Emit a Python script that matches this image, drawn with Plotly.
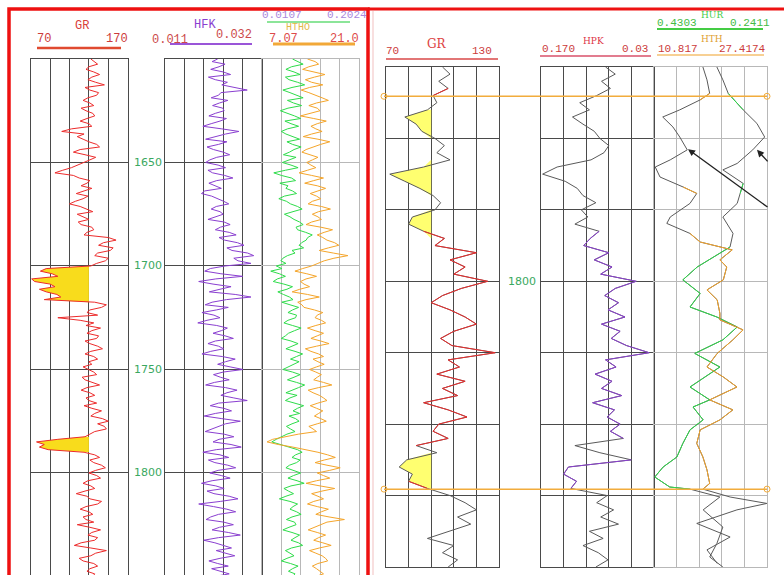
import numpy as np
import plotly.graph_objects as go

W, H = 784, 575

# ---------------- LEFT PANEL DATA (depth step 1.25 m from 1600) ----------------
left_gr = [132, 136, 139, 130, 127, 135, 141, 133, 129, 137, 146, 126, 131, 140, 138, 129, 124, 131, 135, 122,
           127, 134, 136, 128, 121, 130, 133, 112, 102, 125, 118, 124, 130, 138, 141, 121, 114, 126, 137, 131,
           125, 119, 112, 103, 95, 114, 120, 131, 128, 122, 133, 125, 117, 129, 124, 116, 110, 121, 127, 134,
           118, 125, 130, 119, 122, 133, 135, 128, 125, 150, 158, 145, 140, 155, 152, 139, 136, 150, 147, 138,
           132, 86, 80, 92, 98, 71, 74, 90, 95, 79, 86, 97, 101, 84, 136, 148, 143, 131, 128, 139,
           98, 121, 135, 127, 142, 133, 128, 140, 138, 126, 131, 139, 144, 132, 126, 135, 139, 130, 133, 124,
           129, 135, 138, 123, 126, 134, 141, 128, 122, 131, 136, 127, 130, 138, 125, 133, 143, 136, 132, 144,
           150, 139, 146, 148, 136, 131, 126, 98, 76, 84, 79, 88, 125, 136, 141, 131, 135, 143, 147, 137,
           130, 138, 142, 129, 124, 132, 136, 126, 117, 128, 131, 143, 139, 127, 121, 130, 134, 124, 127, 135,
           118, 131, 142, 133, 129, 139, 136, 122, 115, 132, 148, 137, 132, 120, 124, 135, 139, 131, 128, 136,
           134]
left_hfk = [0.0224, 0.0212, 0.0240, 0.0227, 0.0209, 0.0236, 0.0252, 0.0204, 0.0219, 0.0245, 0.0233, 0.0262, 0.0288, 0.0231, 0.0226, 0.0210, 0.0246, 0.0228, 0.0213, 0.0235,
            0.0238, 0.0219, 0.0205, 0.0243, 0.0229, 0.0210, 0.0192, 0.0233, 0.0270, 0.0241, 0.0217, 0.0198, 0.0244, 0.0226, 0.0201, 0.0215, 0.0236, 0.0250, 0.0222, 0.0207,
            0.0198, 0.0225, 0.0241, 0.0203, 0.0213, 0.0239, 0.0257, 0.0222, 0.0205, 0.0218, 0.0232, 0.0196, 0.0189, 0.0211, 0.0226, 0.0237, 0.0248, 0.0221, 0.0210, 0.0229,
            0.0236, 0.0217, 0.0203, 0.0238, 0.0251, 0.0230, 0.0219, 0.0249, 0.0264, 0.0227, 0.0239, 0.0267, 0.0281, 0.0244, 0.0255, 0.0289, 0.0302, 0.0259, 0.0268, 0.0296,
            0.0240, 0.0208, 0.0196, 0.0231, 0.0278, 0.0220, 0.0183, 0.0214, 0.0253, 0.0229, 0.0206, 0.0262, 0.0296, 0.0243, 0.0212, 0.0197, 0.0247, 0.0221, 0.0190, 0.0216,
            0.0229, 0.0201, 0.0181, 0.0222, 0.0245, 0.0232, 0.0214, 0.0240, 0.0258, 0.0219, 0.0203, 0.0226, 0.0237, 0.0209, 0.0190, 0.0234, 0.0262, 0.0241, 0.0224, 0.0251,
            0.0279, 0.0236, 0.0215, 0.0230, 0.0249, 0.0217, 0.0198, 0.0241, 0.0266, 0.0244, 0.0231, 0.0259, 0.0288, 0.0226, 0.0208, 0.0237, 0.0254, 0.0219, 0.0195, 0.0233,
            0.0273, 0.0241, 0.0226, 0.0209, 0.0197, 0.0238, 0.0259, 0.0227, 0.0214, 0.0253, 0.0275, 0.0221, 0.0192, 0.0229, 0.0248, 0.0204, 0.0218, 0.0246, 0.0263, 0.0225,
            0.0207, 0.0232, 0.0251, 0.0212, 0.0189, 0.0220, 0.0238, 0.0201, 0.0216, 0.0249, 0.0268, 0.0230, 0.0183, 0.0215, 0.0244, 0.0263, 0.0226, 0.0209, 0.0199, 0.0237,
            0.0258, 0.0228, 0.0212, 0.0247, 0.0273, 0.0226, 0.0194, 0.0218, 0.0239, 0.0254, 0.0221, 0.0240, 0.0261, 0.0229, 0.0205, 0.0224, 0.0247, 0.0211, 0.0230, 0.0249,
            0.0218]
left_green = [0.071, 0.083, 0.092, 0.069, 0.058, 0.074, 0.086, 0.057, 0.064, 0.081, 0.095, 0.070, 0.052, 0.066, 0.080, 0.092, 0.061, 0.073, 0.089, 0.062,
              0.047, 0.063, 0.075, 0.087, 0.056, 0.068, 0.083, 0.061, 0.049, 0.058, 0.072, 0.085, 0.060, 0.071, 0.088, 0.074, 0.065, 0.053, 0.078, 0.066,
              0.051, 0.068, 0.082, 0.057, 0.034, 0.049, 0.069, 0.077, 0.046, 0.062, 0.058, 0.071, 0.079, 0.055, 0.044, 0.059, 0.067, 0.081, 0.090, 0.072,
              0.055, 0.066, 0.074, 0.085, 0.092, 0.078, 0.081, 0.097, 0.110, 0.101, 0.098, 0.089, 0.084, 0.093, 0.070, 0.076, 0.061, 0.052, 0.048, 0.058,
              0.039, 0.050, 0.028, 0.045, 0.057, 0.041, 0.033, 0.054, 0.071, 0.060, 0.042, 0.053, 0.065, 0.072, 0.050, 0.066, 0.083, 0.071, 0.062, 0.079,
              0.077, 0.062, 0.054, 0.071, 0.088, 0.075, 0.063, 0.057, 0.049, 0.068, 0.082, 0.070, 0.058, 0.076, 0.091, 0.079, 0.067, 0.084, 0.073, 0.060,
              0.052, 0.071, 0.086, 0.074, 0.061, 0.079, 0.095, 0.083, 0.069, 0.058, 0.080, 0.066, 0.057, 0.075, 0.093, 0.081, 0.072, 0.085, 0.064, 0.077,
              0.084, 0.070, 0.059, 0.067, 0.076, 0.060, 0.048, 0.039, 0.030, 0.047, 0.064, 0.081, 0.090, 0.077, 0.070, 0.086, 0.079, 0.065, 0.058, 0.074,
              0.087, 0.073, 0.062, 0.080, 0.094, 0.068, 0.054, 0.063, 0.073, 0.058, 0.045, 0.066, 0.081, 0.072, 0.066, 0.079, 0.088, 0.070, 0.059, 0.075,
              0.078, 0.064, 0.052, 0.070, 0.085, 0.076, 0.068, 0.083, 0.091, 0.069, 0.057, 0.066, 0.074, 0.060, 0.049, 0.067, 0.082, 0.071, 0.063, 0.076,
              0.071]
left_htho = [13.6, 14.7, 15.2, 13.8, 12.9, 14.4, 16.1, 14.6, 13.3, 14.2, 15.8, 13.9, 12.7, 13.8, 14.9, 15.7, 16.6, 14.9, 13.8, 15.0,
             15.4, 13.9, 12.6, 14.5, 16.3, 15.0, 14.1, 14.8, 15.7, 14.2, 13.0, 15.1, 16.8, 15.5, 14.4, 13.4, 12.8, 14.0, 15.1, 14.3,
             13.5, 14.1, 14.8, 13.6, 12.4, 14.2, 15.9, 14.5, 13.2, 15.0, 16.2, 15.1, 14.0, 14.9, 15.5, 14.3, 13.7, 15.6, 16.9, 15.2,
             14.3, 15.1, 15.6, 14.2, 13.4, 15.5, 17.2, 16.0, 15.0, 15.8, 16.4, 17.5, 18.1, 16.6, 15.3, 17.3, 19.4, 17.4, 16.0, 15.1,
             14.2, 12.9, 11.8, 13.5, 14.9, 13.4, 12.6, 13.1, 13.9, 12.5, 11.4, 13.6, 15.3, 13.4, 12.2, 12.8, 13.1, 14.6, 15.8, 15.0,
             14.7, 15.6, 16.2, 14.8, 13.6, 14.7, 15.9, 15.0, 14.1, 15.5, 16.7, 14.9, 13.3, 14.1, 15.2, 15.9, 14.4, 15.1, 16.0, 14.9,
             13.9, 14.8, 15.6, 15.0, 14.5, 15.9, 17.1, 15.2, 13.7, 14.4, 15.3, 15.9, 16.4, 15.1, 14.0, 14.9, 15.8, 15.2, 14.6, 15.5,
             16.3, 15.0, 13.8, 14.4, 14.9, 12.3, 10.2, 8.6, 7.8, 9.4, 11.5, 13.6, 15.1, 16.5, 17.6, 16.0, 14.7, 16.4, 18.3, 16.8,
             15.0, 15.9, 16.8, 14.9, 13.4, 15.4, 17.5, 15.7, 14.2, 15.1, 15.9, 14.5, 13.6, 15.0, 16.6, 15.6, 14.8, 16.7, 18.9, 16.4,
             15.4, 14.6, 13.7, 15.0, 16.2, 15.2, 14.5, 15.8, 17.0, 15.3, 13.9, 14.8, 15.7, 16.2, 16.5, 15.1, 14.3, 14.9, 15.5, 15.9,
             14.8]
left_depth = [1600 + 1.25 * i for i in range(len(left_gr))]
left_fill_intervals = [(1700, 1717.5), (1782.5, 1790)]
left_gr_cutoff = 130
left_depth_labels = [1650, 1700, 1750, 1800, 1850]

# ---------------- RIGHT PANEL DATA ----------------
right_depth = list(range(1770, 1841))
right_gr = [100, 104, 98, 103, 95, 97, 92, 80, 86, 89,
            96, 101, 97, 104, 90, 72, 80, 88, 95, 99,
            96, 84, 82, 90, 101, 96, 118, 104, 112, 106,
            124, 110, 100, 94, 104, 112, 118, 106, 99, 105,
            128, 103, 109, 97, 112, 100, 108, 90, 103, 113,
            98, 95, 103, 86, 97, 81, 77, 84, 82, 92,
            104, 112, 118, 108, 115, 103, 92, 106, 100, 108, 103]
right_hpk = [0.090, 0.078, 0.095, 0.084, 0.101, 0.122, 0.110, 0.131, 0.118, 0.104,
             0.097, 0.086, 0.092, 0.108, 0.150, 0.168, 0.140, 0.125, 0.118, 0.102,
             0.120, 0.112, 0.128, 0.098, 0.109, 0.117, 0.086, 0.104, 0.082, 0.096,
             0.052, 0.078, 0.091, 0.074, 0.087, 0.066, 0.095, 0.072, 0.083, 0.064,
             0.036, 0.090, 0.077, 0.103, 0.082, 0.095, 0.070, 0.106, 0.079, 0.088,
             0.072, 0.084, 0.068, 0.128, 0.097, 0.058, 0.136, 0.142, 0.126, 0.133,
             0.088, 0.101, 0.080, 0.096, 0.074, 0.110, 0.093, 0.118, 0.099, 0.087, 0.102]
hth_depth = [1770.0, 1771.8, 1773.7, 1774.6, 1776.0, 1777.0, 1778.4, 1779.8, 1781.6, 1783.0,
             1784.0, 1785.4, 1786.8, 1787.7, 1789.1, 1791.0, 1791.9, 1793.3, 1794.5, 1795.6,
             1797.0, 1798.0, 1799.8, 1801.2, 1802.6, 1804.5, 1805.4, 1806.8, 1808.2, 1810.1,
             1812.0, 1813.4, 1814.8, 1816.6, 1818.0, 1819.4, 1820.8, 1822.7, 1824.6, 1826.4,
             1828.3, 1829.1, 1830.2, 1831.1, 1832.0, 1833.9, 1835.8, 1837.6, 1839.5]
hth_vals = [18.0, 18.6, 19.0, 17.6, 14.6, 12.1, 13.6, 14.6, 15.7, 13.2,
            11.0, 11.7, 15.1, 17.1, 16.1, 13.2, 12.7, 16.1, 17.6, 22.3,
            20.5, 21.5, 21.0, 18.6, 20.1, 20.5, 20.5, 23.9, 22.4, 20.1,
            18.6, 21.0, 23.0, 19.0, 22.4, 20.5, 17.6, 17.1, 18.0, 18.6,
            19.0, 18.0, 22.0, 27.4, 23.0, 17.1, 22.0, 18.6, 20.1]
hur_depth = [1770.0, 1771.8, 1773.7, 1776.0, 1777.9, 1779.8, 1781.6, 1783.5, 1784.4, 1786.3,
             1787.7, 1789.1, 1791.0, 1793.3, 1795.2, 1796.6, 1798.0, 1799.8, 1801.7, 1803.6,
             1805.0, 1806.4, 1808.2, 1810.1, 1812.0, 1814.8, 1816.6, 1817.6, 1819.4, 1820.8,
             1822.7, 1824.6, 1826.0, 1827.4, 1828.8, 1829.1, 1830.2, 1832.0, 1834.4, 1836.7,
             1838.6, 1840.0]
hur_vals = [0.325, 0.315, 0.306, 0.281, 0.258, 0.245, 0.265, 0.291, 0.315, 0.281,
            0.286, 0.291, 0.315, 0.298, 0.303, 0.331, 0.358, 0.382, 0.353, 0.370,
            0.325, 0.291, 0.315, 0.362, 0.320, 0.370, 0.337, 0.365, 0.348, 0.370,
            0.382, 0.392, 0.415, 0.429, 0.404, 0.370, 0.320, 0.348, 0.315, 0.325,
            0.337, 0.315]
right_fill_intervals = [(1776, 1780), (1783, 1788), (1790, 1794), (1824, 1829)]
right_gr_cutoff = 94
gr_red_intervals = [(1773, 1774), (1793, 1823), (1828, 1829)]
hpk_purple_intervals = [(1793, 1822), (1825, 1829)]
hth_orange_intervals = [(1773.7, 1774.6), (1786.8, 1787.7), (1793.3, 1829.1)]
hur_green_intervals = [(1773.7, 1776.0), (1786.3, 1787.7), (1795.2, 1829.1)]
marker_tops = [1774.1, 1829.1]
right_depth_labels = [1800]

# ---------------- helpers ----------------
def fx(p):
    return p / W

def fy(p):
    return 1 - p / H

def fill_polygon(depths, vals, intervals, cutoff):
    xs, ys = [], []
    for a, b in intervals:
        sel = [(d, v) for d, v in zip(depths, vals) if a <= d <= b]
        xs += [cutoff] + [min(v, cutoff) for d, v in sel] + [cutoff, None]
        ys += [sel[0][0]] + [d for d, v in sel] + [sel[-1][0], None]
    return xs, ys

def segments(depths, vals, intervals):
    xs, ys = [], []
    for a, b in intervals:
        for d, v in zip(depths, vals):
            if a - 1e-9 <= d <= b + 1e-9:
                xs.append(v)
                ys.append(d)
        xs.append(None)
        ys.append(None)
    return xs, ys

fig = go.Figure()

LEFT_YEL = "#f8dc1c"
RIGHT_YEL = "#ffff70"
RED = "#ec2b2b"
PURPLE = "#8a3fd0"
GREEN = "#2edc4a"
ORANGE = "#f5a52a"
GREY = "#5a5a5a"

# left GR
fxs, fys = fill_polygon(left_depth, left_gr, left_fill_intervals, left_gr_cutoff)
fig.add_trace(go.Scatter(x=fxs, y=fys, fill="toself", fillcolor=LEFT_YEL, mode="lines",
                         line=dict(width=0), xaxis="x", yaxis="y", hoverinfo="skip"))
fig.add_trace(go.Scatter(x=left_gr, y=left_depth, mode="lines", line=dict(color=RED, width=1),
                         xaxis="x", yaxis="y"))
fig.add_trace(go.Scatter(x=left_hfk, y=left_depth, mode="lines", line=dict(color=PURPLE, width=1),
                         xaxis="x2", yaxis="y2"))
fig.add_trace(go.Scatter(x=left_green, y=left_depth, mode="lines", line=dict(color=GREEN, width=1),
                         xaxis="x3", yaxis="y3"))
fig.add_trace(go.Scatter(x=left_htho, y=left_depth, mode="lines", line=dict(color=ORANGE, width=1),
                         xaxis="x4", yaxis="y3"))

# right GR
fxs, fys = fill_polygon(right_depth, right_gr, right_fill_intervals, right_gr_cutoff)
fig.add_trace(go.Scatter(x=fxs, y=fys, fill="toself", fillcolor=RIGHT_YEL, mode="lines",
                         line=dict(width=0), xaxis="x5", yaxis="y5", hoverinfo="skip"))
fig.add_trace(go.Scatter(x=right_gr, y=right_depth, mode="lines", line=dict(color=GREY, width=1),
                         xaxis="x5", yaxis="y5"))
sx, sy = segments(right_depth, right_gr, gr_red_intervals)
fig.add_trace(go.Scatter(x=sx, y=sy, mode="lines", line=dict(color=RED, width=1),
                         xaxis="x5", yaxis="y5"))
# right HPK
fig.add_trace(go.Scatter(x=right_hpk, y=right_depth, mode="lines", line=dict(color=GREY, width=1),
                         xaxis="x6", yaxis="y6"))
sx, sy = segments(right_depth, right_hpk, hpk_purple_intervals)
fig.add_trace(go.Scatter(x=sx, y=sy, mode="lines", line=dict(color=PURPLE, width=1),
                         xaxis="x6", yaxis="y6"))
# right HUR / HTH
fig.add_trace(go.Scatter(x=hur_vals, y=hur_depth, mode="lines", line=dict(color=GREY, width=1),
                         xaxis="x7", yaxis="y7"))
sx, sy = segments(hur_depth, hur_vals, hur_green_intervals)
fig.add_trace(go.Scatter(x=sx, y=sy, mode="lines", line=dict(color=GREEN, width=1),
                         xaxis="x7", yaxis="y7"))
fig.add_trace(go.Scatter(x=hth_vals, y=hth_depth, mode="lines", line=dict(color=GREY, width=1),
                         xaxis="x8", yaxis="y7"))
sx, sy = segments(hth_depth, hth_vals, hth_orange_intervals)
fig.add_trace(go.Scatter(x=sx, y=sy, mode="lines", line=dict(color=ORANGE, width=1),
                         xaxis="x8", yaxis="y7"))

# ---------------- axes ----------------
left_ydom = [0, fy(59)]
left_yrange = [1849.3, 1600]
right_ydom = [fy(567), fy(67)]
right_yrange = [1840, 1770]

def xax(dom, rng, anchor, grid):
    return dict(domain=[fx(dom[0]), fx(dom[1])], range=rng, anchor=anchor,
                tickvals=list(np.linspace(rng[0], rng[1], 6)[1:-1]), showgrid=True,
                gridcolor=grid, gridwidth=1, showticklabels=False, ticks="", zeroline=False,
                showline=True, linecolor=grid, linewidth=1, side="top", mirror=False)

def yax(dom, rng, anchor, grid, ticks, mirror=True):
    return dict(domain=dom, range=rng, anchor=anchor, tickvals=ticks, showgrid=True,
                gridcolor=grid, gridwidth=1, showticklabels=False, ticks="", zeroline=False,
                showline=True, linecolor=grid, linewidth=1, mirror=mirror)

DARK = "#4a4a4a"
LIGHT = "#b8b8b8"
lt = [1650, 1700, 1750, 1800]
rt = [1780, 1790, 1800, 1810, 1820, 1830]

lay = dict(
    xaxis=xax((30.7, 127.7), [70, 170], "y", DARK),
    yaxis=yax(left_ydom, left_yrange, "x", DARK, lt),
    xaxis2=xax((165, 262), [0.011, 0.032], "y2", DARK),
    yaxis2=yax(left_ydom, left_yrange, "x2", DARK, lt),
    xaxis3=xax((262, 359), [0.0107, 0.2024], "y3", LIGHT),
    yaxis3=yax(left_ydom, left_yrange, "x3", LIGHT, lt),
    xaxis4=dict(overlaying="x3", range=[7.07, 21.0], anchor="y3", visible=False),
    xaxis5=xax((386, 499), [70, 130], "y5", DARK),
    yaxis5=yax(right_ydom, right_yrange, "x5", DARK, rt),
    xaxis6=xax((541, 654), [0.170, 0.03], "y6", DARK),
    yaxis6=yax(right_ydom, right_yrange, "x6", DARK, rt),
    xaxis7=xax((654, 767), [0.4303, 0.2411], "y7", LIGHT),
    yaxis7=yax(right_ydom, right_yrange, "x7", LIGHT, rt),
    xaxis8=dict(overlaying="x7", range=[10.817, 27.4174], anchor="y7", visible=False),
)
for k in ["xaxis5", "xaxis6", "xaxis7"]:
    lay[k]["mirror"] = True
    lay[k]["side"] = "bottom"

# ---------------- annotations ----------------
ann = []

def txt(text, x, y, color, size=12, family="Liberation Mono", **kw):
    d = dict(text=text, x=fx(x), y=fy(y), xref="paper", yref="paper", showarrow=False,
             font=dict(color=color, size=size, family=family), xanchor="center", yanchor="middle")
    d.update(kw)
    ann.append(d)

# left headers
txt("GR", 82, 26, "#d9403a", 12)
txt("70", 44, 39, "#cc3b3b")
txt("170", 117, 39, "#cc3b3b")
txt("HFK", 205, 25, "#8a3fd0", 12)
txt("0.011", 170, 40, "#cc4a4a")
txt("0.032", 234, 35, "#cc4a4a")
txt("0.0107", 282, 15, "#aa88dd", 11)
txt("0.2024", 347, 15, "#aa88dd", 11)
txt("HTHO", 298, 28, "#e0b848", 10)
txt("7.07", 283, 39, "#dd4a4a")
txt("21.0", 344, 39, "#dd4a4a")
# right headers
txt("GR", 437, 44, "#dd4444", 12, "DejaVu Serif")
txt("70", 392, 51, "#cc3b3b", 11)
txt("130", 482, 51, "#cc3b3b", 11)
txt("HPK", 593, 41, "#dd3344", 9, "DejaVu Serif")
txt("0.170", 558, 49, "#cc3b3b", 11)
txt("0.03", 635, 49, "#cc3b3b", 11)
txt("HUR", 712, 15, "#44cc44", 9, "DejaVu Serif")
txt("0.4303", 677, 23, "#44bb44", 11)
txt("0.2411", 750, 23, "#44bb44", 11)
txt("HTH", 712, 39, "#e0a030", 9, "DejaVu Serif")
txt("10.817", 678, 49, "#cc3b3b", 11)
txt("27.4174", 742, 49, "#cc3b3b", 11)

for d in left_depth_labels:
    ann.append(dict(text=str(d), x=fx(148), y=d, xref="paper", yref="y", showarrow=False,
                    font=dict(color="#3aa860", size=11, family="DejaVu Sans"),
                    xanchor="center", yanchor="middle"))
for d in right_depth_labels:
    ann.append(dict(text=str(d), x=fx(522), y=d, xref="paper", yref="y5", showarrow=False,
                    font=dict(color="#3aa860", size=11, family="DejaVu Sans"),
                    xanchor="center", yanchor="middle"))

# arrows in right HUR/HTH track
for hx, hd, axp, ayp in [(688, 1781.5, 81, 59), (757, 1781.6, 12, 13)]:
    ann.append(dict(text="", x=fx(hx), y=hd, xref="paper", yref="y7", showarrow=True,
                    ax=axp, ay=ayp, arrowhead=2, arrowsize=1, arrowwidth=1.4, arrowcolor="#222"))

# ---------------- shapes ----------------
shapes = []

def hline(x0, x1, y, color, width):
    shapes.append(dict(type="line", xref="paper", yref="paper", x0=fx(x0), x1=fx(x1),
                       y0=fy(y), y1=fy(y), line=dict(color=color, width=width)))

hline(37, 121, 48, "#e04a30", 2.5)
hline(170, 252, 44, "#9a55d8", 2)
hline(267, 350, 22, "#66dd77", 1.5)
hline(273, 355, 44, "#f2a838", 3)
hline(386, 498, 59, "#d94848", 1.5)
hline(540, 651, 56, "#d9506a", 1.5)
hline(657, 763, 29, "#44cc44", 2)
hline(657, 764, 55, "#f5c070", 1.5)

# correlation marker lines (depth-based)
for d in marker_tops:
    shapes.append(dict(type="line", xref="paper", yref="y5", x0=fx(384), x1=fx(767), y0=d, y1=d,
                       line=dict(color="#f2ac3c", width=1.5)))
    for px in (384, 767):
        shapes.append(dict(type="circle", xref="paper", yref="y5", xsizemode="pixel",
                           ysizemode="pixel", xanchor=fx(px), yanchor=d, x0=-3, x1=3, y0=-3, y1=3,
                           line=dict(color="#f2ac3c", width=1)))

# panel borders
shapes.append(dict(type="line", xref="paper", yref="paper", x0=fx(373), x1=fx(373), y0=fy(11), y1=0,
                   line=dict(color="#f6d4d4", width=1.5)))
shapes.append(dict(type="rect", xref="paper", yref="paper", x0=fx(9), x1=fx(368), y0=fy(9), y1=fy(590),
                   line=dict(color="#ee1111", width=3.5)))
hline(368, 790, 9, "#ee1111", 3)

fig.update_layout(**lay)
fig.update_layout(width=W, height=H, margin=dict(l=0, r=0, t=0, b=0), showlegend=False,
                  paper_bgcolor="white", plot_bgcolor="white",
                  annotations=ann, shapes=shapes)

fig.write_html("out.html", config={"displayModeBar": False},
               post_script="document.body.style.margin='0';")
